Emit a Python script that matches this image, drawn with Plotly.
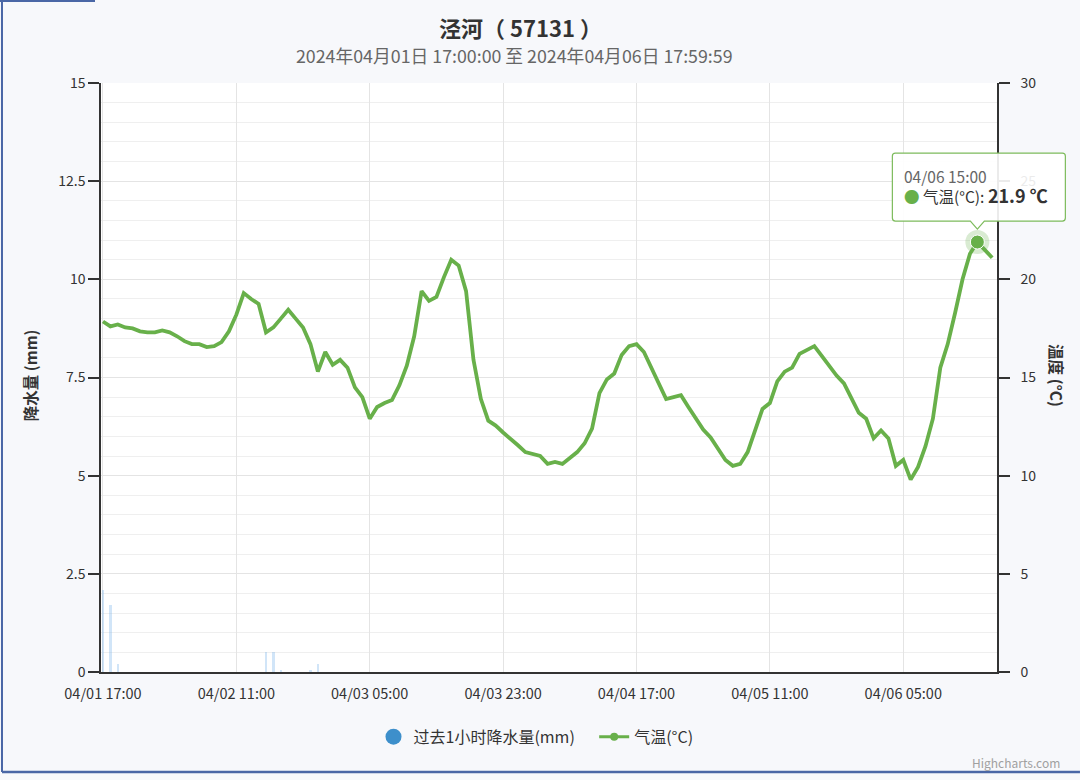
import pandas as pd
import plotly.graph_objects as go

# ---------------- data ----------------
start_time = "2024-04-01 17:00"
n_hours = 121
times = pd.date_range(start_time, periods=n_hours, freq="h")

precip_mm = [
    2.1, 1.7, 0.2, 0, 0, 0, 0, 0, 0, 0,
    0, 0, 0, 0, 0, 0, 0, 0, 0, 0,
    0, 0, 0.5, 0.5, 0.05, 0, 0, 0, 0.05, 0.2,
    0, 0, 0, 0, 0, 0, 0, 0, 0, 0,
    0, 0, 0, 0, 0, 0, 0, 0, 0, 0,
    0, 0, 0, 0, 0, 0, 0, 0, 0, 0,
    0, 0, 0, 0, 0, 0, 0, 0, 0, 0,
    0, 0, 0, 0, 0, 0, 0, 0, 0, 0,
    0, 0, 0, 0, 0, 0, 0, 0, 0, 0,
    0, 0, 0, 0, 0, 0, 0, 0, 0, 0,
    0, 0, 0, 0, 0, 0, 0, 0, 0, 0,
    0, 0, 0, 0, 0, 0, 0, 0, 0, 0,
    0,
]

temp_c = [
    17.85, 17.6, 17.7, 17.55, 17.5, 17.35, 17.3, 17.3, 17.4, 17.3,
    17.1, 16.85, 16.7, 16.7, 16.55, 16.6, 16.8, 17.35, 18.2, 19.3,
    19.0, 18.75, 17.3, 17.55, 18.0, 18.45, 18.0, 17.55, 16.7, 15.3,
    16.3, 15.65, 15.9, 15.5, 14.5, 14.0, 12.9, 13.5, 13.7, 13.85,
    14.6, 15.6, 17.1, 19.4, 18.9, 19.1, 20.1, 21.0, 20.7, 19.4,
    15.9, 13.9, 12.8, 12.55, 12.2, 11.9, 11.55, 11.2, 11.1, 11.0,
    10.6, 10.7, 10.6, 10.9, 11.2, 11.65, 12.4, 14.2, 14.9, 15.2,
    16.15, 16.6, 16.7, 16.3, 15.5, 14.7, 13.9, 14.0, 14.1, 13.5,
    12.9, 12.35, 11.95, 11.4, 10.8, 10.5, 10.6, 11.2, 12.3, 13.4,
    13.7, 14.8, 15.3, 15.5, 16.2, 16.4, 16.6, 16.1, 15.6, 15.1,
    14.7, 14.0, 13.2, 12.9, 11.9, 12.3, 11.9, 10.5, 10.8, 9.8,
    10.45, 11.5, 12.9, 15.5, 16.7, 18.3, 20.0, 21.3, 21.9, 21.5,
    21.1,
]

x_tick_times = ["2024-04-01 17:00", "2024-04-02 11:00", "2024-04-03 05:00",
                "2024-04-03 23:00", "2024-04-04 17:00", "2024-04-05 11:00",
                "2024-04-06 05:00"]
x_tick_labels = ["04/01 17:00", "04/02 11:00", "04/03 05:00", "04/03 23:00",
                 "04/04 17:00", "04/05 11:00", "04/06 05:00"]

title_text = "泾河（ 57131 ）"
subtitle_text = "2024年04月01日 17:00:00 至 2024年04月06日 17:59:59"
precip_name = "过去1小时降水量(mm)"
temp_name = "气温(°C)"
hover_index = 118

precip_max = 15
temp_max = 30

# ---------------- style ----------------
FONT = "Noto Sans CJK SC, Noto Sans, sans-serif"
GREEN = "#68b04a"
BLUE = "#3d8fcb"
TXT = "#333333"
GRID = "#e4e4e4"
MINOR = "#efefef"
FRAME = "#4a67a6"
NBSP = "\u00a0"

fig = go.Figure()

fig.add_trace(go.Bar(
    x=times, y=precip_mm, yaxis="y", name=precip_name,
    marker=dict(color="rgba(124,181,236,0.35)", line=dict(width=0)),
    width=0.3 * 3600000, showlegend=False, hoverinfo="skip",
))

fig.add_trace(go.Scatter(
    x=times, y=temp_c, yaxis="y2", name=temp_name, mode="lines",
    line=dict(color=GREEN, width=3.8), showlegend=False,
))

# hovered point
hx = times[hover_index]
hy = temp_c[hover_index]
fig.add_trace(go.Scatter(
    x=[hx], y=[hy], yaxis="y2", mode="markers", showlegend=False,
    marker=dict(size=24, color="rgba(104,176,74,0.25)"), hoverinfo="skip",
))
fig.add_trace(go.Scatter(
    x=[hx], y=[hy], yaxis="y2", mode="markers", showlegend=False,
    marker=dict(size=14, color=GREEN, line=dict(color="white", width=1)), hoverinfo="skip",
))

# legend-only entries
fig.add_trace(go.Scatter(
    x=[None], y=[None], mode="markers", name=precip_name + NBSP * 4,
    marker=dict(symbol="circle", size=16, color=BLUE),
))
fig.add_trace(go.Scatter(
    x=[None], y=[None], mode="lines+markers", name=temp_name,
    line=dict(color=GREEN, width=3), marker=dict(size=8, color=GREEN),
))

x_start = times[0] - pd.Timedelta(minutes=16)
x_end = times[-1] + pd.Timedelta(minutes=39)

fig.update_layout(
    width=1080, height=780, autosize=False,
    margin=dict(l=101, r=83, t=83, b=108),
    paper_bgcolor="#f7f8fb", plot_bgcolor="white",
    font=dict(family=FONT, color=TXT, size=14),
    bargap=0,
    xaxis=dict(
        type="date", range=[x_start, x_end],
        tickmode="array", tickvals=x_tick_times, ticktext=x_tick_labels,
        showgrid=True, gridcolor=GRID, gridwidth=1,
        showline=True, linecolor="#333333", linewidth=1.5,
        ticks="", ticklabelstandoff=8, tickfont=dict(size=14.5, color=TXT), zeroline=False,
    ),
    yaxis=dict(
        range=[0, precip_max], dtick=2.5, tick0=0,
        showgrid=True, gridcolor=GRID, gridwidth=1,
        minor=dict(dtick=0.5, showgrid=True, gridcolor=MINOR, gridwidth=1),
        showline=True, linecolor="#333333", linewidth=1.5,
        ticks="outside", ticklen=11, tickcolor="#333333", tickwidth=1.5,
        tickfont=dict(size=14, color=TXT), zeroline=False,
    ),
    yaxis2=dict(
        range=[0, temp_max], dtick=5, tick0=0, overlaying="y", side="right",
        showgrid=False, showline=True, linecolor="#333333", linewidth=1.5,
        ticks="outside", ticklen=11, tickcolor="#333333", tickwidth=1.5,
        ticklabelstandoff=8,
        tickfont=dict(size=14, color=TXT), zeroline=False,
    ),
    legend=dict(
        orientation="h", x=0.4855, xanchor="center", y=-0.11, yanchor="middle",
        font=dict(size=16, color=TXT), bgcolor="rgba(0,0,0,0)",
        itemsizing="trace", traceorder="normal", itemwidth=30,
    ),
    hovermode=False,
)

# anchor of the hovered point in paper coordinates (derived from the data)
hx_paper = (hx - x_start) / (x_end - x_start)
hy_paper = hy / temp_max

annotations = [
    dict(text=f"<b>{title_text}</b>", xref="paper", yref="paper", x=0.468, y=1.095,
         showarrow=False, font=dict(size=22, color=TXT), xanchor="center", yanchor="middle"),
    dict(text=subtitle_text, xref="paper", yref="paper", x=0.461, y=1.0475,
         showarrow=False, font=dict(size=17.8, color="#666666"), xanchor="center", yanchor="middle"),
    dict(text="<b>降水量 (mm)</b>", xref="paper", yref="paper", x=-0.0792, y=0.504,
         showarrow=False, textangle=-90, font=dict(size=15.5, color=TXT),
         xanchor="center", yanchor="middle"),
    dict(text="<b>温度 (°C)</b>", xref="paper", yref="paper", x=1.067, y=0.504,
         showarrow=False, textangle=90, font=dict(size=15.5, color=TXT),
         xanchor="center", yanchor="middle"),
    dict(text="Highcharts.com", xref="paper", yref="paper", x=1.0725, y=-0.1536,
         showarrow=False, font=dict(size=12, color="#a0a0a0"), xanchor="right", yanchor="middle"),
    # tooltip text
    dict(text=(f"<span style='color:#666666'>{hx.strftime('%m/%d %H:%M')}</span><br>"
               f"<span style='color:{GREEN}'>●</span> 气温(°C): "
               f"<b><span style='font-size:18px'>{hy} ℃</span></b>"),
         x=hx_paper, y=hy_paper, xref="paper", yref="paper", showarrow=False, align="left",
         xanchor="left", yanchor="middle", xshift=-75, yshift=56,
         font=dict(size=15.5, color=TXT)),
]
fig.update_layout(annotations=annotations)

# tooltip callout box (pixel-sized, anchored at the hovered point)
callout = ("M -82,89 L 85,89 Q 88,89 88,86 L 88,24 Q 88,21 85,21 "
           "L 7,21 L 0,13 L -7,21 L -82,21 Q -85,21 -85,24 L -85,86 Q -85,89 -82,89 Z")
fig.add_shape(type="path", xref="paper", yref="paper", xsizemode="pixel", ysizemode="pixel",
              xanchor=hx_paper, yanchor=hy_paper, path=callout,
              fillcolor="rgba(255,255,255,0.9)", line=dict(color="#7dbb5c", width=1.2),
              layer="above")

# outer frame of the screenshot (left, bottom, short top segment)
fig.add_shape(type="line", xref="paper", yref="paper", x0=-0.1105, x1=-0.1105,
              y0=-0.1698, y1=1.141, line=dict(color=FRAME, width=2))
fig.add_shape(type="line", xref="paper", yref="paper", x0=-0.1105, x1=1.0926,
              y0=-0.1698, y1=-0.1698, line=dict(color=FRAME, width=2.5))
fig.add_shape(type="line", xref="paper", yref="paper", x0=-0.113, x1=-0.0067,
              y0=1.1392, y1=1.1392, line=dict(color=FRAME, width=2))

fig.write_html(
    "out.html",
    config={"displayModeBar": False},
    post_script="document.body.style.margin='0';document.body.style.overflow='hidden';",
)
